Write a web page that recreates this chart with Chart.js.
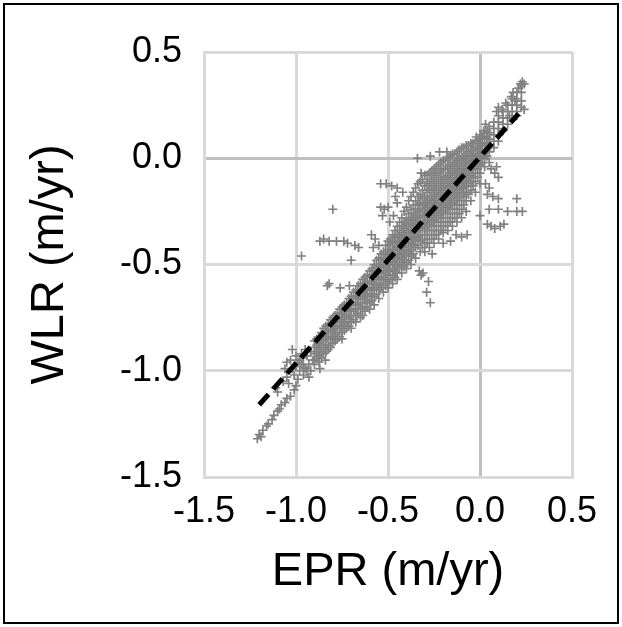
<!DOCTYPE html>
<html>
<head>
<meta charset="utf-8">
<script src="https://cdn.jsdelivr.net/npm/chart.js@4.4.1/dist/chart.umd.min.js"></script>
<style>
  html, body { margin: 0; padding: 0; background: #fff; }
  canvas { display: block; }
</style>
</head>
<body>
<canvas id="scatterChart" width="622" height="627"></canvas>
<script>
// 축 눈금 (두 축 공통)
const tickValues = [-1.5, -1.0, -0.5, 0.0, 0.5];

// 추세선 양 끝점
const trendEpr = [-1.2, 0.21];
const trendWlr = [-1.16, 0.21];

// 왼쪽 아래 꼬리 부분 [EPR, WLR]
const tailPoints = [
  [-1.21, -1.32], [-1.2, -1.3], [-1.19, -1.31], [-1.18, -1.28], [-1.16, -1.26],
  [-1.15, -1.25], [-1.13, -1.23], [-1.12, -1.21], [-1.1, -1.19], [-1.09, -1.18],
  [-1.08, -1.16], [-1.06, -1.15], [-1.05, -1.13], [-1.03, -1.12], [-1.01, -1.09],
  [-1.0, -1.07], [-1.11, -1.08], [-1.1, -1.1], [-1.07, -1.05], [-1.05, -1.03],
  [-1.04, -1.06], [-1.06, -0.99], [-1.05, -0.96], [-1.03, -0.95], [-1.02, -0.99],
  [-1.01, -1.02], [-0.99, -1.04], [-0.98, -1.0], [-0.99, -0.96], [-0.97, -0.97],
  [-0.96, -1.02], [-0.95, -0.99], [-0.96, -0.94], [-0.94, -0.93], [-0.93, -0.97],
  [-0.92, -1.0], [-0.91, -0.95], [-0.93, -1.03], [-0.9, -0.97], [-0.92, -0.91],
  [-0.95, -0.9], [-0.97, -0.92], [-1.0, -0.93], [-1.02, -0.9], [-0.87, -0.99],
  [-0.84, -0.95], [-0.98, -0.95], [-0.96, -0.98], [-0.94, -1.0], [-1.0, -0.98],
];

// 주 띠: 열마다 EPR 값 하나와 그 열의 WLR 값들
const bandEpr = [
  -0.9, -0.875, -0.85, -0.825, -0.8, -0.775, -0.75, -0.725, -0.7, -0.675,
  -0.65, -0.625, -0.6, -0.575, -0.55, -0.525, -0.5, -0.475, -0.45, -0.425,
  -0.4, -0.375, -0.35, -0.325, -0.3, -0.275, -0.25, -0.225, -0.2, -0.175,
  -0.15, -0.125, -0.1, -0.075, -0.05, -0.025, 0.0, 0.025, 0.05, 0.075,
  0.1, 0.125, 0.15, 0.175, 0.2, 0.225,
];
const bandWlr = [
  [-0.86, -0.89, -0.92, -0.95],
  [-0.84, -0.87, -0.9, -0.93, -0.96],
  [-0.8, -0.83, -0.86, -0.89, -0.92],
  [-0.78, -0.81, -0.84, -0.88, -0.9],
  [-0.75, -0.78, -0.81, -0.84, -0.87],
  [-0.73, -0.76, -0.79, -0.82, -0.85],
  [-0.7, -0.73, -0.76, -0.79, -0.82, -0.85],
  [-0.68, -0.71, -0.74, -0.77, -0.8],
  [-0.65, -0.68, -0.71, -0.74, -0.77, -0.8],
  [-0.62, -0.65, -0.68, -0.71, -0.74, -0.77],
  [-0.59, -0.62, -0.65, -0.68, -0.71, -0.75],
  [-0.56, -0.59, -0.62, -0.65, -0.68, -0.72],
  [-0.53, -0.56, -0.59, -0.62, -0.65, -0.68, -0.71],
  [-0.5, -0.53, -0.56, -0.59, -0.62, -0.65, -0.69],
  [-0.47, -0.5, -0.53, -0.56, -0.59, -0.62, -0.66],
  [-0.44, -0.47, -0.5, -0.53, -0.56, -0.59, -0.63],
  [-0.39, -0.43, -0.46, -0.49, -0.52, -0.55, -0.58, -0.61],
  [-0.36, -0.4, -0.43, -0.46, -0.49, -0.52, -0.55, -0.59],
  [-0.32, -0.36, -0.39, -0.42, -0.45, -0.48, -0.51, -0.54, -0.57],
  [-0.28, -0.32, -0.35, -0.38, -0.41, -0.44, -0.47, -0.5, -0.54],
  [-0.23, -0.28, -0.31, -0.34, -0.37, -0.4, -0.43, -0.46, -0.49, -0.52],
  [-0.18, -0.24, -0.28, -0.31, -0.34, -0.37, -0.4, -0.43, -0.46, -0.5],
  [-0.14, -0.2, -0.24, -0.27, -0.3, -0.33, -0.36, -0.39, -0.42, -0.47],
  [-0.11, -0.17, -0.21, -0.24, -0.27, -0.3, -0.33, -0.36, -0.39, -0.44],
  [-0.08, -0.13, -0.18, -0.21, -0.24, -0.27, -0.3, -0.33, -0.36, -0.4, -0.44],
  [-0.07, -0.11, -0.15, -0.19, -0.22, -0.25, -0.28, -0.31, -0.34, -0.38, -0.42],
  [-0.05, -0.09, -0.13, -0.17, -0.2, -0.23, -0.26, -0.29, -0.32, -0.36, -0.4],
  [-0.03, -0.07, -0.11, -0.15, -0.18, -0.21, -0.24, -0.27, -0.3, -0.34, -0.38],
  [-0.01, -0.05, -0.09, -0.13, -0.16, -0.19, -0.22, -0.25, -0.28, -0.32, -0.35],
  [0.0, -0.04, -0.08, -0.11, -0.14, -0.17, -0.2, -0.23, -0.26, -0.3, -0.34],
  [0.02, -0.02, -0.06, -0.09, -0.12, -0.15, -0.18, -0.21, -0.24, -0.28, -0.32],
  [0.03, -0.01, -0.04, -0.07, -0.1, -0.13, -0.16, -0.19, -0.22, -0.26, -0.3],
  [0.05, 0.01, -0.02, -0.05, -0.08, -0.11, -0.14, -0.17, -0.2, -0.24, -0.28],
  [0.06, 0.02, -0.01, -0.04, -0.07, -0.1, -0.13, -0.16, -0.2, -0.25],
  [0.07, 0.04, 0.01, -0.02, -0.05, -0.08, -0.11, -0.15, -0.2],
  [0.08, 0.05, 0.02, -0.01, -0.04, -0.07, -0.11, -0.16],
  [0.09, 0.06, 0.03, 0.0, -0.03, -0.07, -0.12],
  [0.12, 0.09, 0.06, 0.03, 0.0, -0.04],
  [0.15, 0.12, 0.09, 0.06, 0.03, -0.02],
  [0.17, 0.14, 0.11, 0.08, 0.05],
  [0.2, 0.17, 0.14, 0.11, 0.08],
  [0.22, 0.19, 0.16, 0.13],
  [0.25, 0.22, 0.19, 0.16],
  [0.28, 0.25, 0.22, 0.19],
  [0.31, 0.28, 0.25, 0.22],
  [0.34, 0.31, 0.27, 0.24],
];

// 가장 빽빽한 구간의 중간 열
const coreEpr = [
  -0.8875, -0.8625, -0.8375, -0.8125, -0.7875, -0.7625, -0.7375, -0.7125,
  -0.6875, -0.6625, -0.6375,
  -0.6125, -0.5875, -0.5625, -0.5375, -0.5125, -0.4875, -0.4625, -0.4375,
  -0.4125, -0.3875, -0.3625, -0.3375, -0.3125, -0.2875, -0.2625, -0.2375,
  -0.2125, -0.1875, -0.1625, -0.1375, -0.1125, -0.0875, -0.0625, -0.0375,
  -0.0125, 0.0125, 0.0375,
];
const coreWlr = [
  [-0.85, -0.88, -0.91, -0.94],
  [-0.82, -0.85, -0.88, -0.91, -0.94],
  [-0.79, -0.82, -0.85, -0.88, -0.91],
  [-0.76, -0.79, -0.82, -0.85, -0.89],
  [-0.74, -0.77, -0.8, -0.83, -0.86],
  [-0.71, -0.74, -0.77, -0.8, -0.84],
  [-0.69, -0.72, -0.75, -0.78, -0.81],
  [-0.66, -0.69, -0.72, -0.75, -0.79],
  [-0.63, -0.66, -0.69, -0.72, -0.76],
  [-0.6, -0.63, -0.66, -0.69, -0.73],
  [-0.57, -0.6, -0.63, -0.66, -0.7, -0.74],
  [-0.55, -0.58, -0.61, -0.64, -0.67, -0.7],
  [-0.52, -0.55, -0.58, -0.61, -0.64, -0.67],
  [-0.48, -0.51, -0.54, -0.57, -0.6, -0.64],
  [-0.45, -0.48, -0.51, -0.54, -0.57, -0.61],
  [-0.41, -0.45, -0.48, -0.51, -0.54, -0.57, -0.6],
  [-0.38, -0.41, -0.44, -0.47, -0.5, -0.53, -0.57],
  [-0.34, -0.37, -0.4, -0.43, -0.47, -0.5, -0.53, -0.56],
  [-0.3, -0.34, -0.37, -0.4, -0.43, -0.46, -0.49, -0.52],
  [-0.25, -0.3, -0.33, -0.36, -0.39, -0.42, -0.45, -0.48, -0.51],
  [-0.2, -0.26, -0.29, -0.32, -0.35, -0.38, -0.41, -0.44, -0.48],
  [-0.16, -0.22, -0.26, -0.29, -0.32, -0.35, -0.38, -0.41, -0.45],
  [-0.12, -0.18, -0.22, -0.25, -0.28, -0.31, -0.34, -0.37, -0.41],
  [-0.1, -0.15, -0.19, -0.22, -0.25, -0.28, -0.31, -0.34, -0.38, -0.42],
  [-0.08, -0.12, -0.16, -0.2, -0.23, -0.26, -0.29, -0.32, -0.36, -0.4],
  [-0.06, -0.1, -0.14, -0.18, -0.21, -0.24, -0.27, -0.3, -0.34, -0.38],
  [-0.04, -0.08, -0.12, -0.16, -0.19, -0.22, -0.25, -0.28, -0.32, -0.36],
  [-0.02, -0.06, -0.1, -0.14, -0.17, -0.2, -0.23, -0.26, -0.3, -0.34],
  [-0.01, -0.05, -0.09, -0.12, -0.15, -0.18, -0.21, -0.24, -0.28, -0.32],
  [0.01, -0.03, -0.07, -0.1, -0.13, -0.16, -0.19, -0.22, -0.26, -0.3],
  [0.02, -0.02, -0.05, -0.08, -0.11, -0.14, -0.17, -0.2, -0.24, -0.28],
  [0.04, 0.0, -0.03, -0.06, -0.09, -0.12, -0.15, -0.18, -0.22, -0.26],
  [0.05, 0.01, -0.02, -0.05, -0.08, -0.11, -0.14, -0.18, -0.22],
  [0.06, 0.03, 0.0, -0.03, -0.06, -0.09, -0.12, -0.17],
  [0.07, 0.04, 0.01, -0.02, -0.05, -0.09, -0.13],
  [0.08, 0.05, 0.02, -0.01, -0.05, -0.09],
  [0.1, 0.07, 0.04, 0.01, -0.02],
  [0.13, 0.1, 0.07, 0.04, 0.01],
];

// 띠에서 벗어난 점 [EPR, WLR]
const outlierPoints = [
  [-0.97, -0.46], [-0.8, -0.24], [-0.7, -0.48],
  [-0.87, -0.39], [-0.85, -0.38], [-0.82, -0.39], [-0.78, -0.39], [-0.74, -0.39],
  [-0.72, -0.4], [-0.68, -0.41], [-0.66, -0.42],
  [-0.83, -0.6], [-0.82, -0.59], [-0.76, -0.61], [-0.71, -0.6],
  [-0.59, -0.36], [-0.57, -0.38], [-0.55, -0.41], [-0.58, -0.42],
  [-0.54, -0.23], [-0.52, -0.24], [-0.5, -0.23], [-0.53, -0.27],
  [-0.54, -0.12], [-0.51, -0.12], [-0.48, -0.13], [-0.45, -0.14], [-0.46, -0.18],
  [-0.45, -0.21], [-0.42, -0.16], [-0.49, -0.3], [-0.47, -0.27],
  [-0.34, 0.0], [-0.27, 0.01], [-0.22, 0.03], [-0.18, 0.03], [-0.32, -0.07],
  [0.04, -0.17], [0.07, -0.18], [0.1, -0.19], [0.2, -0.19], [0.05, -0.24],
  [0.1, -0.24], [0.15, -0.25], [0.2, -0.25], [0.23, -0.25], [0.0, -0.27],
  [0.04, -0.31], [0.06, -0.32], [0.08, -0.33], [0.11, -0.32], [0.13, -0.31],
  [0.06, -0.05], [0.08, -0.07], [0.1, -0.09], [0.03, -0.12], [0.05, -0.14], [0.09, -0.04],
  [-0.13, -0.36], [-0.1, -0.37], [-0.07, -0.36], [-0.26, -0.45], [-0.2, -0.4], [-0.16, -0.39],
  [-0.33, -0.53], [-0.32, -0.55], [-0.31, -0.54], [-0.28, -0.58], [-0.29, -0.63], [-0.27, -0.68],
  [0.02, 0.13], [0.03, 0.16], [0.04, 0.12], [0.0, 0.11], [-0.02, 0.1],
  [0.21, 0.33], [0.22, 0.35], [0.23, 0.36], [0.24, 0.35], [0.17, 0.29], [0.18, 0.31],
  [0.19, 0.27], [0.09, 0.22], [0.1, 0.24], [0.12, 0.23], [0.2, 0.2], [0.24, 0.23],
  [0.16, 0.2], [0.14, 0.26],
];

// 산점도 데이터 만들기
const scatterData = [];
tailPoints.forEach((p) => scatterData.push({ x: p[0], y: p[1] }));
bandEpr.forEach((x, i) => {
  bandWlr[i].forEach((y) => scatterData.push({ x: x, y: y }));
});
coreEpr.forEach((x, i) => {
  coreWlr[i].forEach((y) => scatterData.push({ x: x, y: y }));
});
outlierPoints.forEach((p) => scatterData.push({ x: p[0], y: p[1] }));

const trendData = trendEpr.map((x, i) => ({ x: x, y: trendWlr[i] }));

const fontFamily = "'Liberation Sans', Arial, sans-serif";

// 바깥 테두리
const framePlugin = {
  id: "frame",
  afterDraw(chart) {
    const ctx = chart.ctx;
    ctx.save();
    ctx.strokeStyle = "#000";
    ctx.lineWidth = 2;
    ctx.strokeRect(4, 4, 614, 619);
    ctx.restore();
  },
};

const gridColor = (ctx) => (ctx.tick && ctx.tick.value === 0 ? "#bfbfbf" : "#d9d9d9");

const ctx = document.getElementById("scatterChart").getContext("2d");
new Chart(ctx, {
  type: "scatter",
  data: {
    datasets: [
      {
        label: "trend",
        data: trendData,
        showLine: true,
        borderColor: "#000",
        borderWidth: 5,
        borderDash: [14, 7],
        borderCapStyle: "butt",
        pointRadius: 0,
        fill: false,
      },
      {
        label: "WLR vs EPR",
        data: scatterData,
        pointStyle: "cross",
        pointRadius: 4.5,
        pointBorderWidth: 1.7,
        borderColor: "#808080",
        backgroundColor: "#808080",
      },
    ],
  },
  options: {
    responsive: false,
    animation: false,
    layout: { padding: { left: 0, right: 50, top: 52, bottom: 0 } },
    plugins: { legend: { display: false }, tooltip: { enabled: false } },
    scales: {
      x: {
        type: "linear",
        min: -1.5,
        max: 0.5,
        afterBuildTicks: (scale) => {
          scale.ticks = tickValues.map((v) => ({ value: v }));
        },
        afterFit: (scale) => {
          scale.height = 150;
        },
        grid: { color: gridColor, lineWidth: 3, drawTicks: false },
        border: { display: true, color: "#d9d9d9", width: 3 },
        ticks: {
          color: "#000",
          padding: 13,
          font: { family: fontFamily, size: 36 },
          callback: (v) => Number(v).toFixed(1),
        },
        title: {
          display: true,
          text: "EPR (m/yr)",
          color: "#000",
          font: { family: fontFamily, size: 47 },
          padding: { top: 0, bottom: 27 },
        },
      },
      y: {
        type: "linear",
        min: -1.5,
        max: 0.5,
        afterBuildTicks: (scale) => {
          scale.ticks = tickValues.map((v) => ({ value: v }));
        },
        afterFit: (scale) => {
          scale.width = 204;
        },
        grid: { color: gridColor, lineWidth: 3, drawTicks: false },
        border: { display: true, color: "#d9d9d9", width: 3 },
        ticks: {
          color: "#000",
          padding: 22,
          font: { family: fontFamily, size: 36 },
          callback: (v) => Number(v).toFixed(1),
        },
        title: {
          display: true,
          text: "WLR (m/yr)",
          color: "#000",
          font: { family: fontFamily, size: 47 },
          padding: { top: 22, bottom: 0 },
        },
      },
    },
  },
  plugins: [framePlugin],
});
</script>
</body>
</html>
